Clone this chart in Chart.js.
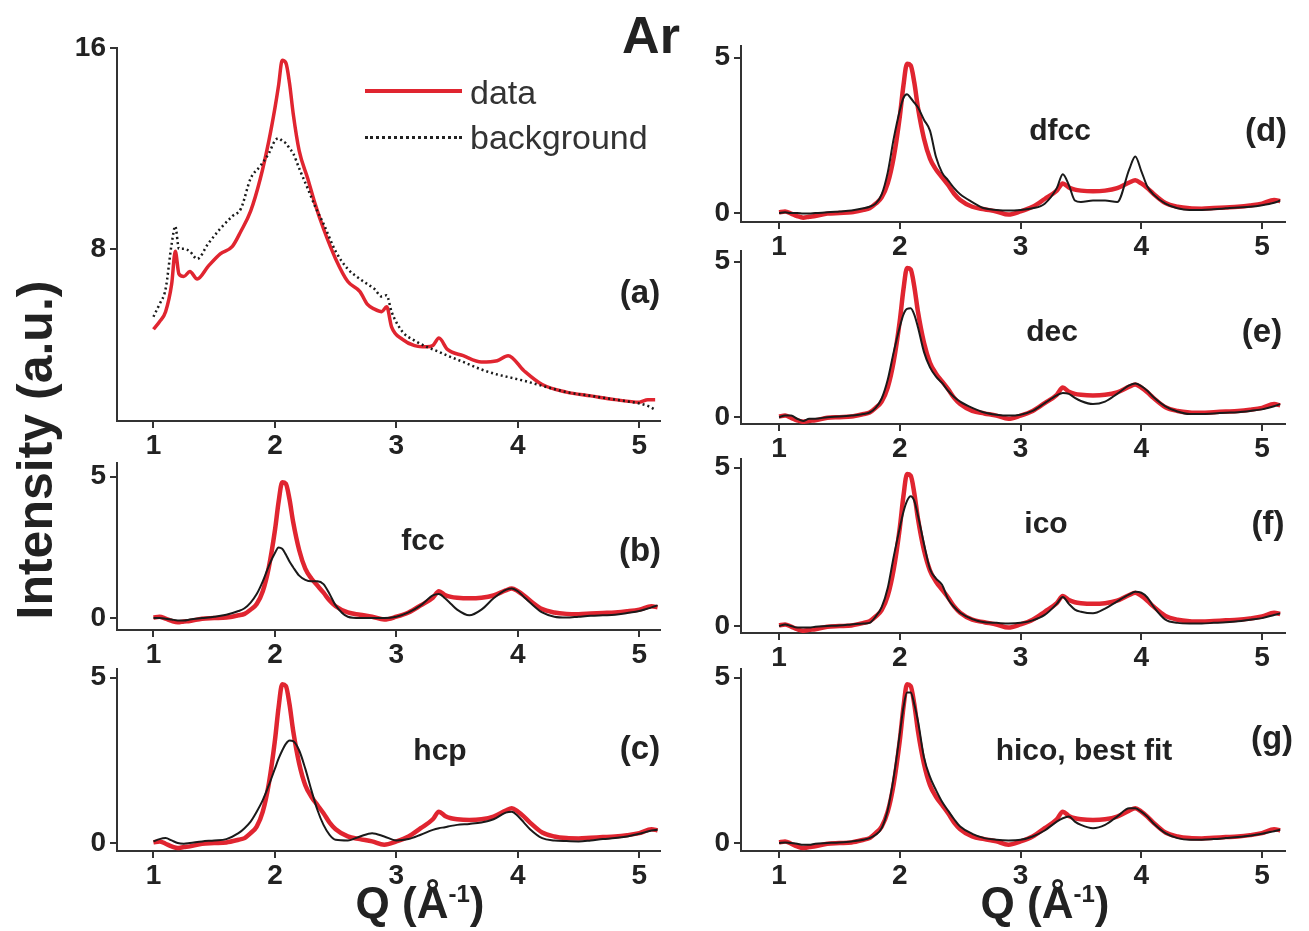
<!DOCTYPE html>
<html>
<head>
<meta charset="utf-8">
<script src="https://cdn.jsdelivr.net/npm/chart.js@4.4.1/dist/chart.umd.min.js"></script>
<style>
  body { margin: 0; background: #fff; }
  #wrap { position: relative; width: 1309px; height: 931px; overflow: hidden; font-family: "Liberation Sans", Arial, sans-serif; color: #222; }
  canvas { position: absolute; }
  .lbl { position: absolute; transform: translate(-50%, -50%); white-space: nowrap; font-weight: bold; }
  .leg { position: absolute; font-size: 34px; color: #333; transform: translateY(-50%); }
  .sample { position: absolute; width: 97px; }
</style>
</head>
<body>
<div id="wrap">
  <canvas id="pa" width="603" height="434" style="left:67px;top:27px"></canvas>
  <canvas id="pb" width="603" height="228" style="left:67px;top:442px"></canvas>
  <canvas id="pc" width="603" height="243" style="left:67px;top:648px"></canvas>
  <canvas id="pd" width="604" height="237" style="left:691px;top:25px"></canvas>
  <canvas id="pe" width="604" height="234" style="left:691px;top:230px"></canvas>
  <canvas id="pf" width="604" height="235" style="left:691px;top:438px"></canvas>
  <canvas id="pg" width="604" height="243" style="left:691px;top:648px"></canvas>

  <div class="lbl" style="left:651px;top:35px;font-size:52px">Ar</div>
  <div class="sample" style="left:365px;top:89px;border-top:4px solid #e02530"></div>
  <div class="leg" style="left:470px;top:92px">data</div>
  <div class="sample" style="left:365px;top:136px;border-top:3px dotted #222"></div>
  <div class="leg" style="left:470px;top:137px">background</div>

  <div class="lbl" style="left:640px;top:292px;font-size:33px">(a)</div>
  <div class="lbl" style="left:423px;top:540px;font-size:30px">fcc</div>
  <div class="lbl" style="left:640px;top:550px;font-size:33px">(b)</div>
  <div class="lbl" style="left:440px;top:750px;font-size:30px">hcp</div>
  <div class="lbl" style="left:640px;top:748px;font-size:33px">(c)</div>
  <div class="lbl" style="left:1060px;top:130px;font-size:30px">dfcc</div>
  <div class="lbl" style="left:1266px;top:130px;font-size:33px">(d)</div>
  <div class="lbl" style="left:1052px;top:331px;font-size:30px">dec</div>
  <div class="lbl" style="left:1262px;top:331px;font-size:33px">(e)</div>
  <div class="lbl" style="left:1046px;top:523px;font-size:30px">ico</div>
  <div class="lbl" style="left:1268px;top:523px;font-size:33px">(f)</div>
  <div class="lbl" style="left:1084px;top:750px;font-size:30px">hico, best fit</div>
  <div class="lbl" style="left:1272px;top:738px;font-size:33px">(g)</div>

  <div class="lbl" style="left:35px;top:450px;font-size:50px;transform:translate(-50%,-50%) rotate(-90deg)">Intensity (a.u.)</div>
  <div class="lbl" style="left:420px;top:903px;font-size:44px">Q (Å<sup style="font-size:24px">-1</sup>)</div>
  <div class="lbl" style="left:1045px;top:903px;font-size:44px">Q (Å<sup style="font-size:24px">-1</sup>)</div>
</div>

<script>
// tick labels
const xTicks = [1, 2, 3, 4, 5];
const yTicksA = [8, 16];
const yTicksFit = [0, 5];

// panel (a): raw data and background
const qA = [1.0, 1.05, 1.1, 1.15, 1.18, 1.21, 1.25, 1.3, 1.36, 1.45,
  1.55, 1.65, 1.72, 1.8, 1.88, 1.95, 2.0, 2.03, 2.06, 2.09,
  2.12, 2.15, 2.2, 2.27, 2.33, 2.4, 2.5, 2.6, 2.7, 2.76,
  2.82, 2.88, 2.92, 2.96, 3.05, 3.15, 3.25, 3.3, 3.35, 3.42,
  3.55, 3.7, 3.83, 3.92, 4.05, 4.2, 4.4, 4.6, 4.8, 5.0,
  5.07, 5.13];
const dataA = [4.8, 5.1, 5.5, 6.6, 7.9, 7.0, 6.9, 7.1, 6.8, 7.3,
  7.8, 8.1, 8.7, 9.5, 10.8, 12.3, 13.6, 14.5, 15.5, 15.4,
  14.6, 13.4, 11.9, 10.8, 9.8, 8.8, 7.6, 6.7, 6.3, 5.8,
  5.6, 5.5, 5.7, 4.9, 4.4, 4.15, 4.1, 4.15, 4.45, 4.0,
  3.75, 3.5, 3.55, 3.75, 3.15, 2.6, 2.3, 2.15, 2.0, 1.9,
  2.0, 2.0];
const backgroundA = [5.3, 5.8, 6.4, 8.2, 8.9, 8.0, 8.0, 7.9, 7.6, 8.2,
  8.8, 9.3, 9.6, 10.8, 11.3, 11.8, 12.3, 12.4, 12.3, 12.2,
  12.0, 11.8, 11.2, 10.4, 9.7, 9.0, 7.9, 7.2, 6.8, 6.6,
  6.4, 6.1, 6.15, 5.5, 4.7, 4.35, 4.1, 4.0, 3.9, 3.75,
  3.5, 3.2, 3.0, 2.9, 2.75, 2.55, 2.3, 2.15, 2.0, 1.85,
  1.75, 1.6];

// panels (b)-(g): background-subtracted data and model fits
const qFit = [1.0, 1.05, 1.1, 1.15, 1.2, 1.25, 1.3, 1.4, 1.5, 1.6,
  1.7, 1.75, 1.8, 1.85, 1.9, 1.95, 2.0, 2.03, 2.06, 2.09,
  2.12, 2.15, 2.2, 2.25, 2.3, 2.35, 2.4, 2.45, 2.5, 2.6,
  2.7, 2.8, 2.9, 3.0, 3.1, 3.2, 3.3, 3.35, 3.4, 3.45,
  3.5, 3.6, 3.7, 3.8, 3.9, 3.95, 4.0, 4.05, 4.1, 4.2,
  4.3, 4.4, 4.5, 4.6, 4.7, 4.8, 4.9, 5.0, 5.1, 5.15];
const dataSub = [0.02, 0.05, -0.02, -0.1, -0.15, -0.12, -0.1, -0.02, 0.0, 0.02,
  0.1, 0.15, 0.3, 0.5, 0.95, 1.8, 3.1, 4.1, 4.8, 4.75,
  4.2, 3.4, 2.4, 1.75, 1.4, 1.15, 0.9, 0.62, 0.42, 0.2,
  0.12, 0.05, -0.05, 0.05, 0.2, 0.45, 0.72, 0.95, 0.82, 0.75,
  0.72, 0.7, 0.72, 0.8, 0.98, 1.05, 0.95, 0.8, 0.62, 0.32,
  0.2, 0.15, 0.14, 0.16, 0.18, 0.2, 0.24, 0.3, 0.42, 0.38];
const fcc = [0.0, 0.0, -0.02, -0.05, -0.08, -0.08, -0.05, 0.0, 0.05, 0.12,
  0.25, 0.35, 0.55, 0.85, 1.3, 1.85, 2.3, 2.5, 2.45, 2.25,
  2.0, 1.8, 1.5, 1.35, 1.3, 1.3, 1.2, 0.85, 0.45, 0.05,
  0.0, 0.0, 0.0, 0.05, 0.2, 0.45, 0.8, 0.85, 0.7, 0.5,
  0.3, 0.1, 0.3, 0.7, 1.0, 1.05, 0.95, 0.75, 0.55, 0.2,
  0.05, 0.02, 0.05, 0.08, 0.1, 0.12, 0.18, 0.25, 0.38, 0.45];
const hcp = [0.05, 0.12, 0.15, 0.08, 0.0, -0.02, 0.0, 0.05, 0.08, 0.12,
  0.3, 0.45, 0.65, 0.95, 1.3, 1.75, 2.25, 2.55, 2.8, 3.0,
  3.1, 3.08, 2.8, 2.25, 1.6, 1.0, 0.55, 0.25, 0.1, 0.08,
  0.2, 0.3, 0.2, 0.08, 0.12, 0.25, 0.4, 0.45, 0.48, 0.52,
  0.55, 0.58, 0.62, 0.72, 0.92, 0.95, 0.82, 0.62, 0.42, 0.15,
  0.08, 0.06, 0.05, 0.08, 0.12, 0.15, 0.2, 0.28, 0.38, 0.4];
const dfcc = [0.0, 0.02, 0.0, 0.0, -0.02, -0.02, 0.0, 0.02, 0.05, 0.08,
  0.15, 0.2, 0.3, 0.6, 1.3, 2.4, 3.3, 3.7, 3.82, 3.7,
  3.55, 3.4, 3.0, 2.65, 1.8, 1.3, 1.05, 0.8, 0.6, 0.35,
  0.15, 0.1, 0.08, 0.1, 0.15, 0.3, 0.8, 1.25, 0.9, 0.4,
  0.35, 0.4, 0.4, 0.35, 1.4, 1.82, 1.35, 0.85, 0.6, 0.3,
  0.15, 0.1, 0.1, 0.12, 0.15, 0.18, 0.2, 0.25, 0.33, 0.4];
const dec = [0.0, 0.05, 0.05, -0.05, -0.12, -0.05, -0.05, 0.0, 0.02, 0.05,
  0.1, 0.15, 0.3, 0.6, 1.2, 2.1, 2.9, 3.3, 3.48, 3.5,
  3.3, 2.9, 2.1, 1.6, 1.3, 1.1, 0.85, 0.65, 0.5, 0.3,
  0.15, 0.08, 0.05, 0.08, 0.2, 0.45, 0.7, 0.78, 0.75, 0.62,
  0.52, 0.42, 0.5, 0.75, 1.02, 1.08, 1.0, 0.85, 0.65, 0.35,
  0.18, 0.1, 0.1, 0.12, 0.14, 0.16, 0.2, 0.25, 0.35, 0.42];
const ico = [0.0, 0.05, 0.0, -0.05, -0.05, -0.05, -0.02, 0.0, 0.02, 0.05,
  0.08, 0.1, 0.3, 0.6, 1.2, 2.2, 3.1, 3.6, 3.95, 4.1,
  3.95, 3.5, 2.6, 1.8, 1.5, 1.3, 0.85, 0.6, 0.42, 0.22,
  0.12, 0.1, 0.08, 0.1, 0.18, 0.35, 0.7, 0.92, 0.7, 0.52,
  0.45, 0.4, 0.55, 0.78, 1.0, 1.08, 1.05, 0.9, 0.62, 0.2,
  0.1, 0.08, 0.08, 0.1, 0.12, 0.15, 0.2, 0.25, 0.35, 0.4];
const hico = [0.0, 0.02, 0.0, -0.02, -0.05, -0.05, -0.02, 0.0, 0.02, 0.05,
  0.1, 0.15, 0.25, 0.45, 1.0, 2.0, 3.3, 4.1, 4.55, 4.55,
  4.2, 3.7, 2.6, 2.0, 1.6, 1.25, 0.98, 0.72, 0.5, 0.28,
  0.15, 0.1, 0.08, 0.1, 0.2, 0.38, 0.65, 0.75, 0.8, 0.65,
  0.55, 0.45, 0.55, 0.8, 1.05, 1.05, 0.95, 0.8, 0.6, 0.3,
  0.15, 0.1, 0.1, 0.12, 0.15, 0.18, 0.22, 0.28, 0.36, 0.4];

const RED = '#e02530';
const BLACK = '#1a1a1a';
const AXIS = '#333';
const FONT = '"Liberation Sans", Arial, sans-serif';

function pts(xs, ys) {
  return xs.map((x, i) => ({ x: x, y: ys[i] }));
}

function axisBase(ticks, fit, pad) {
  return {
    type: 'linear',
    afterBuildTicks: s => { s.ticks = ticks.map(v => ({ value: v })); },
    afterFit: fit,
    grid: { drawOnChartArea: false, drawTicks: true, tickLength: 7, lineWidth: 2, color: AXIS },
    border: { display: true, width: 2, color: AXIS },
    ticks: { font: { family: FONT, size: 28, weight: 'bold' }, color: '#222', padding: pad, maxRotation: 0 }
  };
}

function makePanel(id, xRange, yRange, yTicks, datasets) {
  const x = axisBase(xTicks, s => { s.height = 40; }, 1);
  x.min = xRange[0]; x.max = xRange[1];
  const y = axisBase(yTicks, s => { s.width = 50; }, 4);
  y.min = yRange[0]; y.max = yRange[1];

  return new Chart(document.getElementById(id), {
    type: 'line',
    data: { datasets: datasets },
    options: {
      responsive: false,
      animation: false,
      devicePixelRatio: 1,
      layout: { padding: { top: 20, right: 10, left: 0, bottom: 0 } },
      plugins: { legend: { display: false }, tooltip: { enabled: false } },
      elements: { point: { radius: 0 }, line: { cubicInterpolationMode: 'monotone' } },
      scales: { x: x, y: y }
    }
  });
}

function fitSets(model) {
  // model first so it is drawn on top of the red data
  return [
    { data: pts(qFit, model), borderColor: BLACK, borderWidth: 2, fill: false },
    { data: pts(qFit, dataSub), borderColor: RED, borderWidth: 4.5, fill: false }
  ];
}

makePanel('pa', [0.7, 5.17], [1.15, 16], yTicksA, [
  { data: pts(qA, backgroundA), borderColor: BLACK, borderWidth: 2.5, borderDash: [2, 3], fill: false },
  { data: pts(qA, dataA), borderColor: RED, borderWidth: 3.5, fill: false }
]);
makePanel('pb', [0.7, 5.17], [-0.42, 5.49], yTicksFit, fitSets(fcc));
makePanel('pc', [0.7, 5.17], [-0.24, 5.27], yTicksFit, fitSets(hcp));
makePanel('pd', [0.685, 5.19], [-0.29, 5.38], yTicksFit, fitSets(dfcc));
makePanel('pe', [0.685, 5.19], [-0.22, 5.35], yTicksFit, fitSets(dec));
makePanel('pf', [0.685, 5.19], [-0.22, 5.28], yTicksFit, fitSets(ico));
makePanel('pg', [0.685, 5.19], [-0.24, 5.27], yTicksFit, fitSets(hico));
</script>
</body>
</html>
